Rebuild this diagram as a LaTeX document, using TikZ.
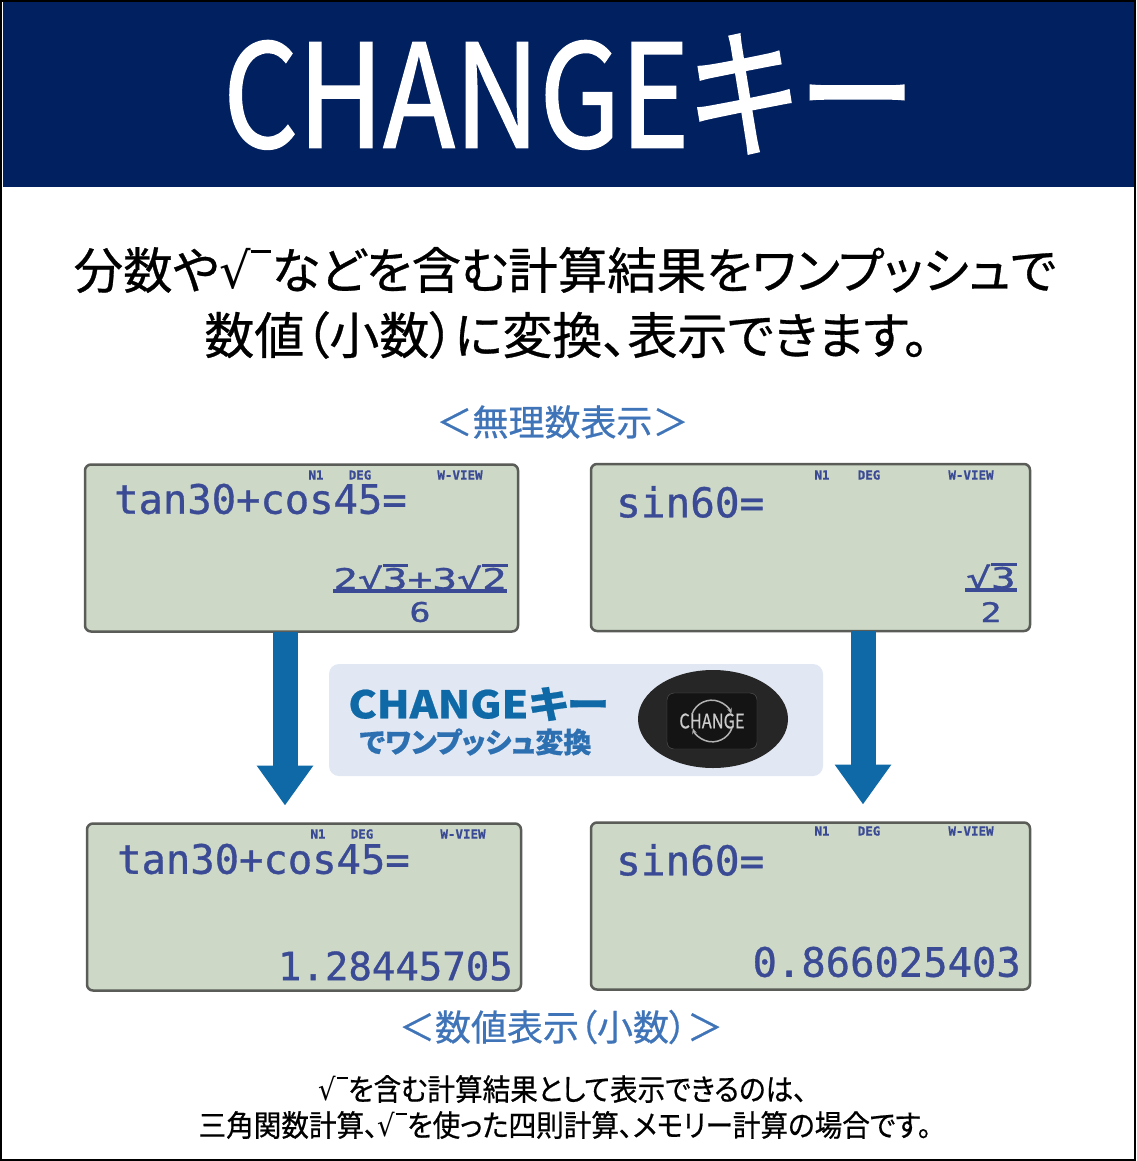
\documentclass[tikz,border=0pt]{standalone}
\usepackage{fontspec}
\usetikzlibrary{arrows.meta,shapes.geometric}
\newfontfamily\jpfont[RawFeature=+palt,FakeBold=.6]{Noto Sans CJK JP}
\newfontfamily\jpheavy[RawFeature=+palt,FakeBold=1.4]{Noto Sans CJK JP}
\newfontfamily\lcdfont[FakeBold=.8]{DejaVu Sans Mono}
\newfontfamily\rootfont{DejaVu Sans}
\newcommand{\jpsize}[1]{\jpfont\fontsize{#1}{#1}\selectfont}
\newcommand{\jpbig}[1]{\jpheavy\fontsize{#1}{#1}\selectfont}
\newcommand{\lcdsize}[1]{\lcdfont\fontsize{#1}{#1}\selectfont}
\newcommand{\lcdsmall}[1]{\lcdfont\bfseries\fontsize{#1}{#1}\selectfont}
\newcommand{\rootmark}{{\rootfont √}\rlap{\raisebox{.73em}{\rule{.4em}{.05em}}}\kern.42em}
\newcommand{\lcdroot}[1]{√\rlap{\raisebox{.78em}{\rule{.62em}{.09em}}}#1}
\definecolor{navyband}{HTML}{002060}
\definecolor{lcdgreen}{HTML}{CDD8C6}
\definecolor{lcdedge}{HTML}{5A5C58}
\definecolor{lcdink}{HTML}{3A4A94}
\definecolor{labelblue}{HTML}{3F74B8}
\definecolor{arrowblue}{HTML}{0F69A6}
\definecolor{panelblue}{HTML}{E1E8F3}
\tikzset{
  screen_box/.style={draw=lcdedge,fill=lcdgreen,line width=2.5,rounded corners=6,minimum height=167,inner sep=0,outer sep=0},
  lcd_text/.style={text=lcdink,inner sep=0},
  ind_text/.style={text=lcdink,inner sep=0,font=\lcdsmall{12.5}},
  down_arrow/.style={draw=arrowblue,line width=25,-{Triangle[length=40pt,width=54pt]}},
  head_text/.style={inner sep=0,font=\jpsize{49.5}},
  blue_label/.style={inner sep=0,text=labelblue,font=\jpsize{36}},
  note_text/.style={inner sep=0,font=\jpsize{30}},
}
\begin{document}
\begin{tikzpicture}[x=1pt,y=-1pt]
\useasboundingbox (0,0) rectangle (1136,1161);
\fill[white] (0,0) rectangle (1136,1161);
\node[fill=navyband,minimum width=1132,minimum height=186,inner sep=0,text=white] (title_band) at (569,94) {\raisebox{-2pt}{\jpbig{143}\scalebox{.82}[1]{CHANGEキー}}};
\draw[black,line width=2.5] (title_band.north west -| 1,0) rectangle (1135,1160);

\node[head_text,below of = title_band, node distance = 176,xshift=-4pt] (head_one) {分数や\rootmark などを含む計算結果をワンプッシュで};
\node[head_text,font=\jpsize{50},below of = head_one, node distance = 65,xshift=1.5pt] (head_two) {数値（小数）に変換、表示できます。};
\node[blue_label,below of = head_two, node distance = 87,xshift=-4pt] (label_top) {＜無理数表示＞};

% screens
\node[screen_box,minimum width=433] (screen_tl) at (301.5,548) {};
\node[screen_box,minimum width=439] (screen_tr) at (810.5,547.5) {};
\node[screen_box,minimum width=434] (screen_bl) at (304,907) {};
\node[screen_box,minimum width=439] (screen_br) at (810.5,906) {};

\node[lcd_text,font=\lcdsize{40.5},anchor=west] (expr_tl) at (114,499) {tan30+cos45=};
\node[lcd_text,font=\lcdsize{41},anchor=west] (expr_tr) at (616,502) {sin60=};
\node[lcd_text,font=\lcdsize{40.5},anchor=west] (expr_bl) at (117,859) {tan30+cos45=};
\node[lcd_text,font=\lcdsize{41},anchor=west] (expr_br) at (616,860) {sin60=};
\node[lcd_text,font=\lcdsize{39},anchor=east] (value_bl) at (513,966) {1.28445705};
\node[lcd_text,font=\lcdsize{40.5},anchor=east] (value_br) at (1021,962) {0.866025403};

\node[lcd_text,font=\lcdsize{29}] (num_tl) at (420,577) {\scalebox{1.42}[1]{2\lcdroot{3}+3\lcdroot{2}}};
\node[lcd_text,font=\lcdsize{27},below of = num_tl, node distance = 35] (den_tl) {\scalebox{1.3}[1]{6}};
\draw[lcdink,line width=4] ([yshift=-1pt]num_tl.south west) -- ([yshift=-1pt]num_tl.south east);
\node[lcd_text,font=\lcdsize{29}] (num_tr) at (991,576) {\scalebox{1.42}[1]{\lcdroot{3}}};
\node[lcd_text,font=\lcdsize{27},below of = num_tr, node distance = 36] (den_tr) {\scalebox{1.3}[1]{2}};
\draw[lcdink,line width=3.5] ([xshift=-1pt,yshift=-1pt]num_tr.south west) -- ([xshift=1pt,yshift=-1pt]num_tr.south east);

\foreach \scr/\a/\b/\c/\yy in {tl/316/360/460/475,tr/822/869/971/475,bl/318/362/463/834,br/822/869/971/831} {
  \node[ind_text] (ind_\scr_a) at (\a,\yy) {N1};
  \node[ind_text] (ind_\scr_b) at (\b,\yy) {DEG};
  \node[ind_text] (ind_\scr_c) at (\c,\yy) {W-VIEW};
}

% arrows
\draw[down_arrow] ([xshift=-16.5pt]screen_tl.south) -- ([xshift=-19pt,yshift=18pt]screen_bl.north);
\draw[down_arrow] ([xshift=52.5pt]screen_tr.south) -- ([xshift=52.5pt,yshift=18pt]screen_br.north);

% change key panel
\node[fill=panelblue,rounded corners=10,minimum width=494,minimum height=112,inner sep=0] (key_panel) at (576,720) {};
\node[inner sep=0,text=arrowblue,font=\jpsize{38}\bfseries] (panel_title) at (478.5,704) {\scalebox{1.12}[1]{CHANGEキー}};
\node[inner sep=0,text=labelblue!60!arrowblue,font=\jpsize{28}\bfseries,below of = panel_title, node distance = 38,xshift=-3pt] (panel_sub) {でワンプッシュ変換};
\node[ellipse,fill=black!85,minimum width=150,minimum height=98,inner sep=0] (key_oval) at (713,719) {};
\node[draw=black!65,fill=black!92,rounded corners=7,minimum width=90,minimum height=56,inner sep=0,text=black!20,font=\jpsize{20}] (key_cap) at (712,721) {\scalebox{.82}[1]{CHANGE}};
\draw[black!30,line width=1.5,-{Stealth[length=6pt]}] ([shift={(-20pt,7pt)}]key_cap.center) arc[start angle=160,end angle=20,radius=21pt];
\draw[black!30,line width=1.5,-{Stealth[length=6pt]}] ([shift={(20pt,-7pt)}]key_cap.center) arc[start angle=-20,end angle=-160,radius=21pt];

\node[blue_label] (label_bottom) at (561,1027) {＜数値表示（小数）＞};
\node[note_text] (note_one) at (563,1089) {\scalebox{.92}[1]{\rootmark を含む計算結果として表示できるのは、}};
\node[note_text,below of = note_one, node distance = 36,xshift=2pt] (note_two) {\scalebox{.92}[1]{三角関数計算、\rootmark を使った四則計算、メモリー計算の場合です。}};
\end{tikzpicture}
\end{document}
